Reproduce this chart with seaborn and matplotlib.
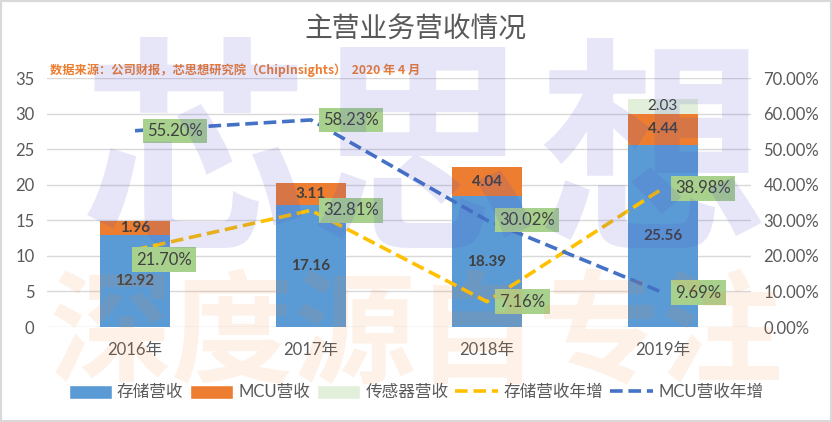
import numpy as np
import pandas as pd
import matplotlib.pyplot as plt
import seaborn as sns
from matplotlib.patches import Patch, Rectangle
from matplotlib.lines import Line2D
from matplotlib.ticker import FuncFormatter

# 数据
years = ['2016年', '2017年', '2018年', '2019年']
storage_rev = [12.92, 17.16, 18.39, 25.56]
mcu_rev = [1.96, 3.11, 4.04, 4.44]
sensor_rev = [0, 0, 0, 2.03]
storage_growth = [21.70, 32.81, 7.16, 38.98]
mcu_growth = [55.20, 58.23, 30.02, 9.69]

sns.set_theme(style='white')
plt.rcParams['font.family'] = ['Lato', 'Noto Sans CJK SC', 'DejaVu Sans']

c_storage = '#5B9BD5'
c_mcu = '#ED7D31'
c_sensor = '#E2EFDA'
c_yellow = '#FFC000'
c_blue = '#4472C4'
c_text = '#595959'

df = pd.DataFrame({'year': years, 'storage': storage_rev, 'mcu': mcu_rev, 'sensor': sensor_rev})
df['s_m'] = df['storage'] + df['mcu']
df['total'] = df['s_m'] + df['sensor']

fig = plt.figure(figsize=(8.32, 4.22), dpi=100)
ax = fig.add_axes([0.0565, 0.225, 0.846, 0.59])

# 堆叠柱：先画总高，再覆盖
bar_kw = dict(width=0.4, saturation=1, ax=ax, zorder=2, linewidth=0, edgecolor='none')
sns.barplot(data=df, x='year', y='total', color=c_sensor, **bar_kw)
sns.barplot(data=df, x='year', y='s_m', color=c_mcu, **bar_kw)
sns.barplot(data=df, x='year', y='storage', color=c_storage, **bar_kw)

ax.set_xlim(-0.5, 3.5)
ax.set_ylim(0, 35)
ax.set_yticks(range(0, 36, 5))
ax.set_xlabel('')
ax.set_ylabel('')
ax.grid(axis='y', color='#D9D9D9', lw=1)
ax.set_axisbelow(True)
for s in ax.spines.values():
    s.set_visible(False)
ax.tick_params(axis='y', length=0, pad=9, labelsize=12, labelcolor=c_text)
ax.tick_params(axis='x', length=0, pad=11, labelsize=12, labelcolor=c_text)

for i in range(len(years)):
    s, m, z = storage_rev[i], mcu_rev[i], sensor_rev[i]
    ax.text(i, s / 2, f'{s:.2f}', ha='center', va='center', fontsize=11,
            fontweight='bold', color='#404040', zorder=3)
    ax.text(i, s + m / 2, f'{m:.2f}', ha='center', va='center', fontsize=11,
            fontweight='bold', color='#404040', zorder=3)
    if z > 0:
        ax.text(i, s + m + z / 2, f'{z:.2f}', ha='center', va='center', fontsize=11,
                color='#404040', zorder=3)

# 增长率折线
ax2 = ax.twinx()
x = np.arange(len(years))
sns.lineplot(x=x, y=np.array(storage_growth) / 100, ax=ax2, color=c_yellow, lw=2.6)
sns.lineplot(x=x, y=np.array(mcu_growth) / 100, ax=ax2, color=c_blue, lw=2.6)
for ln in ax2.lines:
    ln.set_dashes([3.5, 1.6])
ax2.set_ylim(0, 0.7)
ax2.set_yticks(np.arange(0, 0.71, 0.1))
ax2.yaxis.set_major_formatter(FuncFormatter(lambda v, _: f'{v * 100:.2f}%'))
ax2.set_xlabel('')
ax2.set_ylabel('')
ax2.grid(False)
for s in ax2.spines.values():
    s.set_visible(False)
ax2.tick_params(axis='y', length=0, pad=9, labelsize=12, labelcolor=c_text)

nudge_storage = [(1, -7), (9, 0), (9, 0), (9, 0)]
nudge_mcu = [(9, 0), (9, 0), (9, 0), (9, 0)]
box = dict(boxstyle='square,pad=0.25', fc='#A9D18E', ec='none')
for vals, nudges in ((storage_growth, nudge_storage), (mcu_growth, nudge_mcu)):
    for i, v in enumerate(vals):
        ax2.annotate(f'{v:.2f}%', (i, v / 100), xytext=nudges[i], textcoords='offset points',
                     ha='left', va='center', fontsize=12, color='#404040', bbox=box, zorder=5)

# 标题与来源
fig.text(0.499, 0.929, '主营业务营收情况', ha='center', va='center', fontsize=20, color=c_text,
         family=['Noto Sans CJK SC', 'DejaVu Sans'])
fig.text(0.06, 0.834, '数据来源：公司财报，芯思想研究院（ChipInsights）  2020 年 4 月',
         ha='left', va='center', fontsize=8.8, fontweight='bold', color=c_mcu,
         family=['Noto Sans CJK SC', 'DejaVu Sans'])

# 图例
handles = [Patch(fc=c_storage), Patch(fc=c_mcu), Patch(fc=c_sensor),
           Line2D([], [], color=c_yellow, lw=2.6, dashes=[3.5, 1.6]),
           Line2D([], [], color=c_blue, lw=2.6, dashes=[3.5, 1.6])]
labels = ['存储营收', 'MCU营收', '传感器营收', '存储营收年增', 'MCU营收年增']
ax.legend(handles, labels, loc='center', bbox_to_anchor=(0.5, 0.07), bbox_transform=fig.transFigure,
          ncol=5, frameon=False, fontsize=12, handlelength=2.6, handleheight=0.9,
          columnspacing=0.4, handletextpad=0.3, labelcolor=c_text)

# 水印
fig.text(0.51, 0.61, '芯思想', ha='center', va='center', fontsize=165, fontweight='bold',
         color='#5050D0', alpha=0.14, family=['Noto Sans CJK SC'], zorder=10)
fig.text(0.5, 0.20, '深度源自专注', ha='center', va='center', fontsize=88, fontweight='bold',
         color='#F08030', alpha=0.11, family=['Noto Sans CJK SC'], zorder=10)

fig.patches.append(Rectangle((0, 0), 1, 1, transform=fig.transFigure, fill=False,
                             ec='#D9D9D9', lw=3))

fig.savefig('out.png', dpi=100)
